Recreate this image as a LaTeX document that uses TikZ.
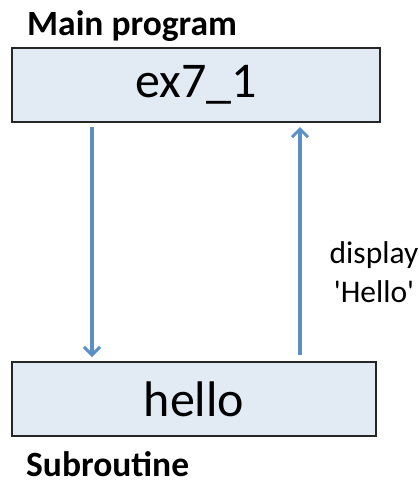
\documentclass[tikz,border=0pt]{standalone}
\usepackage{fontspec}
\setmainfont{Carlito}
\usetikzlibrary{arrows.meta}
\definecolor{boxfill}{HTML}{E2EAF4}
\definecolor{flow}{HTML}{5B8FC7}
\tikzset{
  unit/.style={draw=black!85, line width=1.3pt, fill=boxfill, inner sep=0pt, font=\fontsize{50}{60}\selectfont},
  flowarrow/.style={draw=flow, line width=3.2pt, -{Straight Barb[length=8pt,width=16pt,line width=3pt]}},
  heading/.style={font=\bfseries\fontsize{35.5}{42}\selectfont, anchor=base west, inner sep=0pt},
}
\begin{document}
\begin{tikzpicture}[x=1pt,y=-1pt]
\useasboundingbox (0,0) rectangle (419,485);
% program units
\node[unit, minimum width=368pt, minimum height=74pt] (main) at (196,85) {ex7\_1};
\node[unit, minimum width=364pt, minimum height=74pt] (sub) at (194,399) {hello};
% headings
\node[heading] (mainlbl) at (27,35) {Main program};
\node[heading] (sublbl) at (26,476) {Subroutine};
% call and return
\coordinate (callA) at (92,127);
\coordinate (callB) at (92,357);
\coordinate (retA) at (300,355);
\coordinate (retB) at (300,127);
\draw[flowarrow] (callA) -- (callB);
\draw[flowarrow] (retA) -- (retB);
\node[font=\fontsize{31.5}{39}\selectfont, align=center, inner sep=0pt, anchor=base] (msg) at (374,302) {display\\\textquotesingle Hello\textquotesingle};
\end{tikzpicture}
\end{document}
